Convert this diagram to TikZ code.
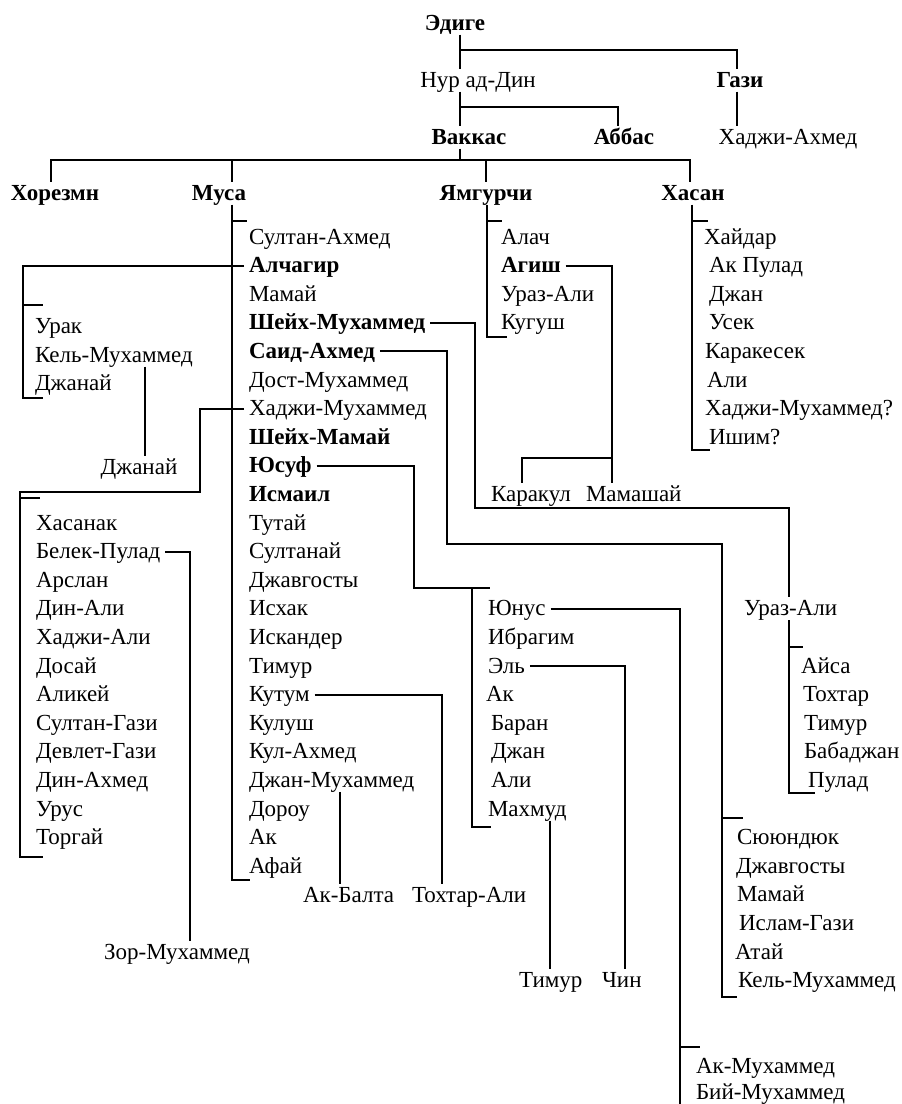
\documentclass[tikz,border=0pt]{standalone}
\usepackage{fontspec}
\setmainfont{Liberation Serif}
\begin{document}
\begin{tikzpicture}[x=1pt,y=-1pt,line width=2pt,line join=miter,
  every node/.style={font=\fontsize{23}{27}\selectfont, inner ysep=2pt, inner xsep=4pt, text height=15.5pt, text depth=1.5pt},
  nm/.style={anchor=base west, xshift=-4pt},
  nmb/.style={anchor=base west, xshift=-4pt, font=\fontsize{23}{27}\selectfont\bfseries},
  tp/.style={anchor=base},
  tpb/.style={anchor=base, font=\fontsize{23}{27}\selectfont\bfseries}]
\fill[white] (0,0) rectangle (902,1104);
\useasboundingbox (0,0) rectangle (902,1104);
% ---- top generations
\node[tpb] (edige) at (455,30) {Эдиге};
\node[tp]  (nur) at (478,87) {Нур ад-Дин};
\node[tpb] (gazi) at (740,87) {Гази};
\node[tpb] (vakkas) at (469,144) {Ваккас};
\node[tpb] (abbas) at (624,144) {Аббас};
\node[tp]  (hadjiahmed) at (788,144) {Хаджи-Ахмед};
\node[tpb] (khorezm) at (55,200) {Хорезмн};
\node[tpb] (musa) at (219,200) {Муса};
\node[tpb] (yamg) at (486,200) {Ямгурчи};
\node[tpb] (hasan) at (693,200) {Хасан};
% ---- Musa's sons
\node[nm]  (sa1) at (248,{244+28.6*0}) {Султан-Ахмед};
\node[nmb] (alch) at (248,{244+28.6*1}) {Алчагир};
\node[nm]  (mamai1) at (248,{244+28.6*2}) {Мамай};
\node[nmb] (sheikhm) at (248,{244+28.6*3}) {Шейх-Мухаммед};
\node[nmb] (said) at (248,{244+28.6*4}) {Саид-Ахмед};
\node[nm]  (dost) at (248,{244+28.6*5}) {Дост-Мухаммед};
\node[nm]  (hajim) at (248,{244+28.6*6}) {Хаджи-Мухаммед};
\node[nmb] (sheikhmamai) at (248,{244+28.6*7}) {Шейх-Мамай};
\node[nmb] (yusuf) at (248,{244+28.6*8}) {Юсуф};
\node[nmb] (ismail) at (248,{244+28.6*9}) {Исмаил};
\node[nm]  (tutai) at (248,{244+28.6*10}) {Тутай};
\node[nm]  (sultanai) at (248,{244+28.6*11}) {Султанай};
\node[nm]  (djavg1) at (248,{244+28.6*12}) {Джавгосты};
\node[nm]  (ishak) at (248,{244+28.6*13}) {Исхак};
\node[nm]  (iskander) at (248,{244+28.6*14}) {Искандер};
\node[nm]  (timur1) at (248,{244+28.6*15}) {Тимур};
\node[nm]  (kutum) at (248,{244+28.6*16}) {Кутум};
\node[nm]  (kulush) at (248,{244+28.6*17}) {Кулуш};
\node[nm]  (kulahmed) at (248,{244+28.6*18}) {Кул-Ахмед};
\node[nm]  (djanm) at (248,{244+28.6*19}) {Джан-Мухаммед};
\node[nm]  (dorou) at (248,{244+28.6*20}) {Дороу};
\node[nm]  (ak1) at (248,{244+28.6*21}) {Ак};
\node[nm]  (afai) at (248,{244+28.6*22}) {Афай};
% ---- Yamgurchi's sons
\node[nm]  (alach) at (500,{244+28.6*0}) {Алач};
\node[nmb] (agish) at (500,{244+28.6*1}) {Агиш};
\node[nm]  (urazali1) at (500,{244+28.6*2}) {Ураз-Али};
\node[nm]  (kugush) at (500,{244+28.6*3}) {Кугуш};
% ---- Hasan's sons
\node[nm] (haidar) at (703,{244+28.6*0}) {Хайдар};
\node[nm] (akpulad) at (708,{244+28.6*1}) {Ак Пулад};
\node[nm] (djan1) at (708,{244+28.6*2}) {Джан};
\node[nm] (usek) at (708,{244+28.6*3}) {Усек};
\node[nm] (karakesek) at (704,{244+28.6*4}) {Каракесек};
\node[nm] (ali1) at (706,{244+28.6*5}) {Али};
\node[nm] (hadjim2) at (704,{244+28.6*6}) {Хаджи-Мухаммед?};
\node[nm] (ishim) at (708,{244+28.6*7}) {Ишим?};
% ---- Alchagir's sons
\node[nm] (urak) at (34,333) {Урак};
\node[nm] (kelm1) at (34,362) {Кель-Мухаммед};
\node[nm] (djanai1) at (34,390) {Джанай};
\node[tp] (djanai2) at (139,474) {Джанай};
% ---- Hadji-Muhammed's sons
\node[nm] (hasanak) at (35,{244+28.6*10}) {Хасанак};
\node[nm] (belek) at (35,{244+28.6*11}) {Белек-Пулад};
\node[nm] (arslan) at (35,{244+28.6*12}) {Арслан};
\node[nm] (dinali) at (35,{244+28.6*13}) {Дин-Али};
\node[nm] (hadjiali) at (35,{244+28.6*14}) {Хаджи-Али};
\node[nm] (dosai) at (35,{244+28.6*15}) {Досай};
\node[nm] (alikei) at (35,{244+28.6*16}) {Аликей};
\node[nm] (sultangazi) at (35,{244+28.6*17}) {Султан-Гази};
\node[nm] (devletgazi) at (35,{244+28.6*18}) {Девлет-Гази};
\node[nm] (dinahmed) at (35,{244+28.6*19}) {Дин-Ахмед};
\node[nm] (urus) at (35,{244+28.6*20}) {Урус};
\node[nm] (torgai) at (35,{244+28.6*21}) {Торгай};
\node[tp] (zor) at (177,959) {Зор-Мухаммед};
% ---- Agish's sons
\node[nm] (karakul) at (490,{244+28.6*9}) {Каракул};
\node[nm] (mamashai) at (585,{244+28.6*9}) {Мамашай};
% ---- Sheikh-Muhammed's line
\node[nm] (urazali2) at (743,{244+28.6*13}) {Ураз-Али};
\node[nm] (aisa) at (800,{244+28.6*15}) {Айса};
\node[nm] (tokhtar) at (802,{244+28.6*16}) {Тохтар};
\node[nm] (timur2) at (803,{244+28.6*17}) {Тимур};
\node[nm] (babadjan) at (803,{244+28.6*18}) {Бабаджан};
\node[nm] (pulad) at (807,{244+28.6*19}) {Пулад};
% ---- Yusuf's sons
\node[nm] (yunus) at (487,{244+28.6*13}) {Юнус};
\node[nm] (ibragim) at (487,{244+28.6*14}) {Ибрагим};
\node[nm] (el) at (487,{244+28.6*15}) {Эль};
\node[nm] (ak2) at (485,{244+28.6*16}) {Ак};
\node[nm] (baran) at (490,{244+28.6*17}) {Баран};
\node[nm] (djan2) at (490,{244+28.6*18}) {Джан};
\node[nm] (ali2) at (490,{244+28.6*19}) {Али};
\node[nm] (mahmud) at (487,{244+28.6*20}) {Махмуд};
% ---- Said-Ahmed's sons
\node[nm] (suyun) at (736,{244+28.6*21}) {Сююндюк};
\node[nm] (djavg2) at (735,{244+28.6*22}) {Джавгосты};
\node[nm] (mamai2) at (736,{244+28.6*23}) {Мамай};
\node[nm] (islamgazi) at (738,{244+28.6*24}) {Ислам-Гази};
\node[nm] (atai) at (734,{244+28.6*25}) {Атай};
\node[nm] (kelm2) at (737,{244+28.6*26}) {Кель-Мухаммед};
% ---- others
\node[nm] (akbalta) at (302,902) {Ак-Балта};
\node[nm] (tokhtarali) at (411,902) {Тохтар-Али};
\node[nm] (timur3) at (518,987) {Тимур};
\node[nm] (chin) at (601,987) {Чин};
\node[nm] (akm) at (695,1073) {Ак-Мухаммед};
\node[nm] (biym) at (695,1099) {Бий-Мухаммед};
% ================= connectors
\draw (460,0 |- edige.south) -- (460,0 |- nur.north);
\draw (460,50) -- (737,50) -- (737,0 |- gazi.north);
\draw (460,0 |- nur.south) -- (460,0 |- vakkas.north);
\draw (460,107) -- (618,107) -- (618,0 |- abbas.north);
\draw (737,0 |- gazi.south) -- (737,0 |- hadjiahmed.north);
\draw (460,0 |- vakkas.south) -- (460,160);
\draw (51,0 |- khorezm.north) -- (51,160) -- (690,160) -- (690,0 |- hasan.north);
\draw (232,160) -- (232,0 |- musa.north);
\draw (486,160) -- (486,0 |- yamg.north);
% brackets
\draw (232,0 |- musa.south) -- (232,880) -- (250,880);
\draw (232,221) -- (247,221);
\draw (487,0 |- yamg.south) -- (487,337) -- (507,337);
\draw (487,221) -- (502,221);
\draw (692,0 |- hasan.south) -- (692,450) -- (710,450);
\draw (692,221) -- (708,221);
% Alchagir
\draw (alch.west) -- (23,0 |- alch.west) -- (23,398) -- (43,398);
\draw (23,305) -- (43,305);
\draw (145,0 |- kelm1.south) -- (145,0 |- djanai2.north);
% Hadji-Muhammed
\draw (hajim.west) -| (200,492) -- (20,492) -- (20,857) -- (43,857);
\draw (20,498) -- (40,498);
\draw (belek.east) -| (190,0 |- zor.north);
% Sheikh-Muhammed
\draw (sheikhm.east) -| (475,508) -| (789,0 |- urazali2.north);
\draw (789,0 |- urazali2.south) -- (789,793) -- (815,793);
\draw (789,647) -- (803,647);
% Said-Ahmed
\draw (said.east) -| (447,544) -| (722,997) -- (737,997);
\draw (722,818) -- (743,818);
% Yusuf
\draw (yusuf.east) -| (414,588) -- (490,588);
\draw (472,588) -- (472,827) -- (491,827);
\draw (yunus.east) -| (680,1104);
\draw (680,1047) -- (700,1047);
\draw (el.east) -| (625,0 |- chin.north);
\draw (550,0 |- mahmud.south) -- (550,0 |- timur3.north);
% Kutum, Djan-Muhammed
\draw (kutum.east) -| (442,0 |- tokhtarali.north);
\draw (340,0 |- djanm.south) -- (340,0 |- akbalta.north);
% Agish
\draw (agish.east) -| (612,0 |- mamashai.north);
\draw (612,458) -| (522,0 |- karakul.north);
\end{tikzpicture}
\end{document}
